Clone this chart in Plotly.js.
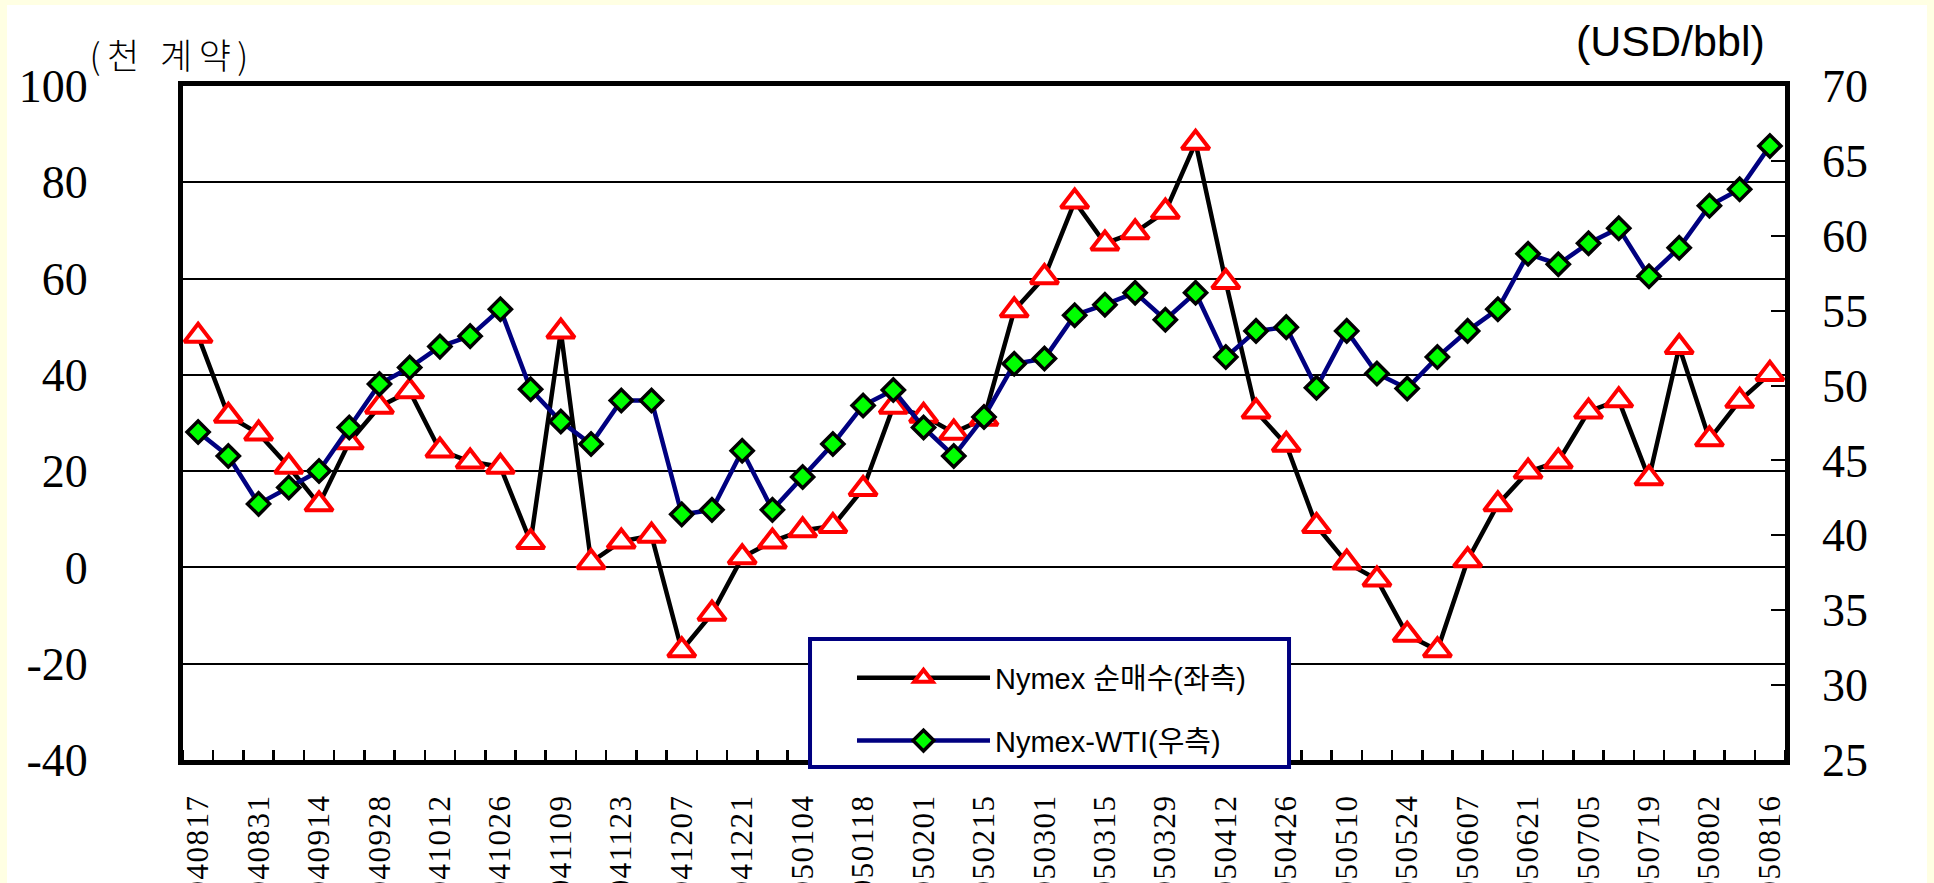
<!DOCTYPE html>
<html>
<head>
<meta charset="utf-8">
<script src="https://cdn.plot.ly/plotly-3.0.1.min.js"></script>
<style>
html, body { margin:0; padding:0; background:#FFFFE3; overflow:hidden; width:1934px; height:883px; }
#chart { position:absolute; left:7px; top:5px; width:1920px; height:878px; background:#ffffff; }
#chart g.xtick text { letter-spacing: 1.5px; }
#chart g.annotation[data-index="0"] text.annotation-text { letter-spacing: 6.5px; }
</style>
</head>
<body>
<div id="chart"></div>
<script>
// Weekly dates (YYMMDD)
const weeks = [
  "040817","040824","040831","040907","040914","040921","040928","041005","041012","041019",
  "041026","041102","041109","041116","041123","041130","041207","041214","041221","041228",
  "050104","050111","050118","050125","050201","050208","050215","050222","050301","050308",
  "050315","050322","050329","050405","050412","050419","050426","050503","050510","050517",
  "050524","050531","050607","050614","050621","050628","050705","050712","050719","050726",
  "050802","050809","050816"
];
// Nymex net long (thousand contracts, left axis)
const netLong = [
  48.1, 31.5, 27.8, 20.9, 13.1, 26.0, 33.4, 36.6, 24.3, 22.0,
  20.9, 5.3, 49.0, 1.1, 5.4, 6.6, -17.2, -9.6, 2.1, 5.4,
  7.7, 8.6, 16.3, 33.4, 31.5, 28.0, 30.9, 53.4, 60.3, 76.0,
  67.3, 69.6, 73.9, 88.2, 59.3, 32.4, 25.5, 8.6, 1.0, -2.5,
  -14.0, -17.2, 1.5, 13.1, 19.9, 22.0, 32.4, 34.7, 18.5, 45.8,
  26.6, 34.6, 40.2
];
// Nymex WTI (USD/bbl, right axis)
const wti = [
  46.9, 45.3, 42.1, 43.2, 44.3, 47.2, 50.1, 51.2, 52.6, 53.3,
  55.1, 49.75, 47.6, 46.1, 49.0, 49.0, 41.4, 41.7, 45.65, 41.7,
  43.9, 46.1, 48.67, 49.7, 47.2, 45.3, 47.9, 51.45, 51.8, 54.7,
  55.4, 56.2, 54.4, 56.2, 51.9, 53.65, 53.9, 49.85, 53.65, 50.8,
  49.8, 51.9, 53.65, 55.1, 58.8, 58.1, 59.5, 60.5, 57.3, 59.2,
  62.0, 63.1, 66.0
];
const leftTicks = [-40, -20, 0, 20, 40, 60, 80, 100];
const rightTicks = [25, 30, 35, 40, 45, 50, 55, 60, 65, 70];
const seriesNames = ["Nymex 순매수(좌측)", "Nymex-WTI(우측)"];
const leftUnit = "(천 계약)";
const rightUnit = "(USD/bbl)";

const xIdx = weeks.map((_, i) => i);
const labelIdx = xIdx.filter(i => i % 2 === 0);
const labelText = labelIdx.map(i => weeks[i]);

const traces = [
  {
    x: xIdx, y: netLong, name: seriesNames[0], type: 'scatter', mode: 'lines+markers',
    yaxis: 'y', legendgroup: 'a',
    line: { color: '#000000', width: 4.5 },
    marker: { symbol: 'triangle-up', size: 24, color: '#ffffff', line: { color: '#ff0000', width: 4 } },
    hoverinfo: 'skip'
  },
  {
    x: xIdx, y: wti, name: seriesNames[1], type: 'scatter', mode: 'lines+markers',
    yaxis: 'y2', legendgroup: 'b',
    line: { color: '#000080', width: 4.5 },
    marker: { symbol: 'diamond', size: 17, color: '#00ff00', line: { color: '#000000', width: 3.5 } },
    hoverinfo: 'skip'
  }
];

const layout = {
  width: 1920, height: 878,
  paper_bgcolor: '#ffffff', plot_bgcolor: '#ffffff',
  margin: { l: 176, r: 142, t: 81, b: 123, pad: 0 },
  font: { family: 'Liberation Serif', color: '#000000' },
  showlegend: true,
  xaxis: {
    range: [-0.5, 52.5], tickmode: 'array', tickvals: labelIdx, ticktext: labelText,
    tickangle: -90, ticks: '', showgrid: false, zeroline: false,
    showline: true, linewidth: 5, linecolor: '#000000', mirror: true,
    tickfont: { family: 'Liberation Serif', size: 31, color: '#000000' },
    ticklabelstandoff: 17,
    minor: { tickmode: 'linear', tick0: 0.5, dtick: 1, ticks: 'inside', ticklen: 10, tickwidth: 2.5, tickcolor: '#000000', showgrid: false }
  },
  yaxis: {
    range: [-40, 100], tickmode: 'array', tickvals: leftTicks, ticktext: leftTicks.map(String),
    ticks: 'inside', ticklen: 15, tickwidth: 2, tickcolor: '#000000',
    showgrid: true, gridcolor: '#000000', gridwidth: 2, zeroline: false,
    showline: true, linewidth: 5, linecolor: '#000000', mirror: true,
    tickfont: { family: 'Liberation Serif', size: 46, color: '#000000' },
    ticklabelstandoff: 81
  },
  yaxis2: {
    range: [25, 70], overlaying: 'y', side: 'right', tickmode: 'array', tickvals: rightTicks,
    ticktext: rightTicks.map(String),
    ticks: 'inside', ticklen: 14, tickwidth: 2, tickcolor: '#000000',
    showgrid: false, zeroline: false, showline: false,
    tickfont: { family: 'Liberation Serif', size: 46, color: '#000000' },
    ticklabelstandoff: 36
  },
  legend: {
    x: 0.4176, y: 0.1595, xanchor: 'left', yanchor: 'top',
    bgcolor: 'rgba(0,0,0,0)', borderwidth: 0,
    font: { family: 'Liberation Sans, Noto Sans CJK KR', size: 29, color: '#000000' },
    itemwidth: 133, tracegroupgap: 22, traceorder: 'grouped'
  },
  shapes: [
    { type: 'rect', xref: 'paper', yref: 'paper', x0: 0.3914, x1: 0.6904, y0: -0.0104, y1: 0.1795,
      layer: 'above', fillcolor: '#ffffff', line: { color: '#000080', width: 4 } }
  ],
  annotations: [
    { text: leftUnit, xref: 'paper', yref: 'paper', x: -0.0069, y: 1.048, xanchor: 'center', yanchor: 'middle',
      showarrow: false, font: { family: 'Noto Sans CJK KR', size: 35, weight: 300, color: '#000000' } },
    { text: rightUnit, xref: 'paper', yref: 'paper', x: 0.9288, y: 1.0668, xanchor: 'center', yanchor: 'middle',
      showarrow: false, font: { family: 'Liberation Sans', size: 43, color: '#000000' } }
  ]
};

Plotly.newPlot('chart', traces, layout, { staticPlot: true, displayModeBar: false });
</script>
</body>
</html>
